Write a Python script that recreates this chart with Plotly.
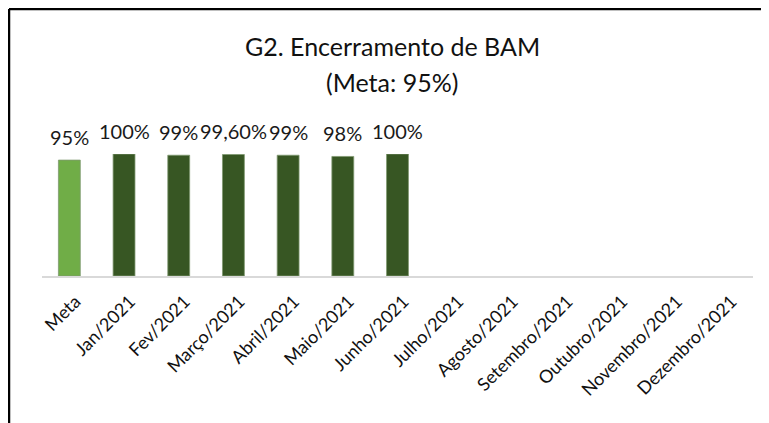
import plotly.graph_objects as go

categories = ["Meta", "Jan/2021", "Fev/2021", "Março/2021", "Abril/2021", "Maio/2021",
              "Junho/2021", "Julho/2021", "Agosto/2021", "Setembro/2021", "Outubro/2021",
              "Novembro/2021", "Dezembro/2021"]
values = [95, 100, 99, 99.6, 99, 98, 100, None, None, None, None, None, None]
labels = ["95%", "100%", "99%", "99,60%", "99%", "98%", "100%", "", "", "", "", "", ""]
colors = ["#70AD47"] + ["#375623"] * 12

# page body has an 8px margin; figure sized to fit the window
W, H = 761, 415
L, R, T, B = 34, 16, 146, 147
ph = H - T - B
pw = W - L - R

fig = go.Figure(go.Bar(
    x=categories, y=values,
    marker=dict(color=colors, line=dict(color="#7F9870", width=0.8)),
    cliponaxis=False, width=0.4,
))

for c, v, t in zip(categories, values, labels):
    if v is None:
        continue
    fig.add_annotation(x=c, y=v, text=t, showarrow=False, yanchor="bottom",
                       yshift=9, font=dict(family="Lato", size=20, color="#1a1a1a"))

fig.update_layout(
    width=W, height=H,
    margin=dict(l=L, r=R, t=T, b=B),
    plot_bgcolor="white", paper_bgcolor="white",
    showlegend=False,
    xaxis=dict(showline=True, linecolor="#D9D9D9", linewidth=2, tickangle=-45,
               tickfont=dict(family="Lato", size=18, color="#111"),
               ticks="outside", ticklen=6, tickcolor="rgba(0,0,0,0)",
               ticklabelshift=6,
               range=[-0.5, 12.5]),
    yaxis=dict(visible=False, range=[0, 100]),
)
fig.add_annotation(text="G2. Encerramento de BAM", xref="paper", yref="paper",
                   x=(392 - 8 - L) / pw, y=(H - 38 - B) / ph, yanchor="middle", showarrow=False,
                   font=dict(family="Lato", size=25, color="#111"))
fig.add_annotation(text="(Meta: 95%)", xref="paper", yref="paper",
                   x=(392 - 8 - L) / pw, y=(H - 74 - B) / ph, yanchor="middle", showarrow=False,
                   font=dict(family="Lato", size=25, color="#111"))
top_y = (H - 1 - B) / ph
left_x = (1 - L) / pw
fig.add_shape(type="line", xref="paper", yref="paper",
              x0=left_x, x1=(W - L) / pw, y0=top_y, y1=top_y,
              line=dict(color="black", width=2.5))
fig.add_shape(type="line", xref="paper", yref="paper",
              x0=left_x, x1=left_x, y0=-B / ph, y1=top_y,
              line=dict(color="black", width=2.5))
fig.write_html("out.html")
